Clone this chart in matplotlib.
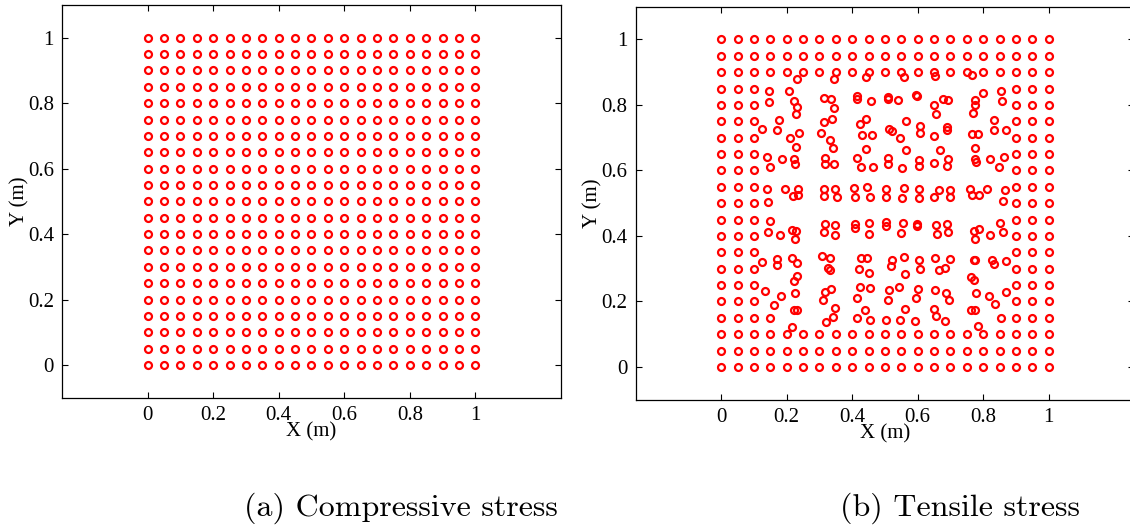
import matplotlib
matplotlib.use("Agg")
import matplotlib.pyplot as plt

# particle coordinates (m): regular 21 x 21 lattice
grid_vals = [0.0, 0.05, 0.1, 0.15, 0.2, 0.25, 0.3, 0.35, 0.4, 0.45, 0.5,
             0.55, 0.6, 0.65, 0.7, 0.75, 0.8, 0.85, 0.9, 0.95, 1.0]

# tensile case: outer three layers stay on the lattice
edge_rows = [0.0, 0.05, 0.1, 0.9, 0.95, 1.0]
edge_cols = [0.0, 0.05, 0.1, 0.9, 0.95, 1.0]
inner_rows = [0.15, 0.2, 0.25, 0.3, 0.35, 0.4, 0.45, 0.5,
              0.55, 0.6, 0.65, 0.7, 0.75, 0.8, 0.85]

# tensile case: displaced particles (x, y)
moved_upper = [
    (0.231, 0.878), (0.343, 0.878), (0.443, 0.885), (0.557, 0.885), (0.654, 0.888),
    (0.766, 0.890), (0.145, 0.842), (0.206, 0.841), (0.799, 0.837), (0.855, 0.844),
    (0.145, 0.808), (0.221, 0.811), (0.233, 0.794), (0.228, 0.771), (0.313, 0.821),
    (0.335, 0.817), (0.343, 0.791), (0.416, 0.827), (0.416, 0.819), (0.458, 0.812),
    (0.508, 0.824), (0.508, 0.817), (0.540, 0.814), (0.596, 0.831), (0.598, 0.826),
    (0.649, 0.801), (0.677, 0.819), (0.692, 0.814), (0.656, 0.773), (0.776, 0.814),
    (0.776, 0.799), (0.768, 0.776), (0.857, 0.812), (0.178, 0.753), (0.126, 0.725),
    (0.172, 0.722), (0.338, 0.758), (0.313, 0.748), (0.443, 0.757), (0.425, 0.743),
    (0.564, 0.751), (0.211, 0.699), (0.239, 0.714), (0.305, 0.714), (0.331, 0.694),
    (0.431, 0.707), (0.460, 0.707), (0.513, 0.728), (0.521, 0.720), (0.547, 0.699),
    (0.606, 0.736), (0.606, 0.714), (0.649, 0.705), (0.689, 0.734), (0.689, 0.724),
    (0.766, 0.712), (0.783, 0.712), (0.832, 0.753), (0.832, 0.722), (0.868, 0.724),
    (0.228, 0.671), (0.341, 0.668), (0.443, 0.666), (0.564, 0.663), (0.669, 0.661),
    (0.774, 0.669), (0.140, 0.641), (0.185, 0.636), (0.223, 0.635), (0.226, 0.621),
    (0.150, 0.610), (0.318, 0.638), (0.318, 0.619), (0.345, 0.621), (0.416, 0.638),
    (0.427, 0.612), (0.463, 0.612), (0.510, 0.638), (0.510, 0.620), (0.551, 0.608),
    (0.603, 0.633), (0.603, 0.613), (0.649, 0.624), (0.692, 0.634), (0.689, 0.615),
    (0.776, 0.636), (0.778, 0.626), (0.822, 0.636), (0.862, 0.641), (0.847, 0.610),
]

moved_mid = [
    (0.140, 0.542), (0.196, 0.542), (0.236, 0.544), (0.218, 0.523), (0.234, 0.526),
    (0.315, 0.542), (0.315, 0.521), (0.348, 0.544), (0.353, 0.519), (0.404, 0.546),
    (0.408, 0.519), (0.445, 0.549), (0.455, 0.519), (0.503, 0.542), (0.502, 0.519),
    (0.557, 0.547), (0.551, 0.517), (0.603, 0.542), (0.603, 0.517), (0.664, 0.541),
    (0.651, 0.519), (0.698, 0.539), (0.698, 0.519), (0.761, 0.542), (0.766, 0.526),
    (0.786, 0.524), (0.810, 0.542), (0.865, 0.541), (0.859, 0.507), (0.142, 0.504),
    (0.148, 0.445), (0.143, 0.412), (0.180, 0.404), (0.216, 0.419), (0.228, 0.414),
    (0.224, 0.390), (0.318, 0.435), (0.348, 0.432), (0.315, 0.412), (0.346, 0.402),
    (0.409, 0.437), (0.409, 0.425), (0.450, 0.439), (0.450, 0.407), (0.503, 0.443),
    (0.503, 0.431), (0.555, 0.439), (0.550, 0.409), (0.598, 0.435), (0.598, 0.429),
    (0.657, 0.432), (0.689, 0.435), (0.659, 0.405), (0.692, 0.412), (0.771, 0.415),
    (0.788, 0.420), (0.774, 0.392), (0.822, 0.404), (0.852, 0.440), (0.860, 0.412),
]

moved_lower = [
    (0.124, 0.320), (0.172, 0.331), (0.172, 0.312), (0.216, 0.333), (0.233, 0.318),
    (0.308, 0.338), (0.331, 0.334), (0.325, 0.302), (0.333, 0.297), (0.427, 0.334),
    (0.445, 0.334), (0.422, 0.300), (0.450, 0.288), (0.521, 0.328), (0.519, 0.309),
    (0.558, 0.335), (0.560, 0.284), (0.603, 0.328), (0.606, 0.298), (0.654, 0.334),
    (0.698, 0.331), (0.684, 0.302), (0.664, 0.295), (0.771, 0.326), (0.776, 0.326),
    (0.827, 0.328), (0.834, 0.315), (0.870, 0.322), (0.231, 0.277), (0.221, 0.262),
    (0.763, 0.275), (0.771, 0.265), (0.134, 0.232), (0.182, 0.216), (0.162, 0.188),
    (0.226, 0.226), (0.335, 0.239), (0.316, 0.228), (0.310, 0.205), (0.423, 0.244),
    (0.455, 0.242), (0.416, 0.212), (0.511, 0.234), (0.509, 0.205), (0.544, 0.244),
    (0.601, 0.239), (0.596, 0.212), (0.654, 0.234), (0.686, 0.226), (0.694, 0.203),
    (0.779, 0.226), (0.819, 0.218), (0.868, 0.229), (0.835, 0.191), (0.560, 0.178),
    (0.438, 0.175), (0.348, 0.181), (0.221, 0.175), (0.233, 0.175), (0.341, 0.153),
    (0.321, 0.137), (0.414, 0.148), (0.455, 0.144), (0.503, 0.144), (0.547, 0.142),
    (0.593, 0.139), (0.649, 0.178), (0.657, 0.155), (0.684, 0.140), (0.763, 0.175),
    (0.776, 0.175), (0.148, 0.150), (0.855, 0.150), (0.216, 0.122), (0.784, 0.124),
]

tick_vals = [0, 0.2, 0.4, 0.6, 0.8, 1]
tick_text = ["0", "0.2", "0.4", "0.6", "0.8", "1"]
captions = ["(a) Compressive stress", "(b) Tensile stress"]

# compressive: untouched lattice
comp_x = [gx for gy in grid_vals for gx in grid_vals]
comp_y = [gy for gy in grid_vals for gx in grid_vals]

# tensile: lattice frame + displaced interior
tens_x = [gx for gy in edge_rows for gx in grid_vals]
tens_y = [gy for gy in edge_rows for gx in grid_vals]
tens_x += [gx for gy in inner_rows for gx in edge_cols]
tens_y += [gy for gy in inner_rows for gx in edge_cols]
for px, py in moved_upper + moved_mid + moved_lower:
    tens_x.append(px)
    tens_y.append(py)

plt.rcParams['font.family'] = ['Liberation Serif', 'DejaVu Serif']

fig = plt.figure(figsize=(11.3, 5.29), dpi=100)
ax1 = fig.add_axes([0.0551, 0.2482, 0.4411, 0.7423])
ax2 = fig.add_axes([0.5628, 0.2444, 0.4407, 0.7430])

for ax, xs, ys in [(ax1, comp_x, comp_y), (ax2, tens_x, tens_y)]:
    ax.plot(xs, ys, 'o', color='red', markerfacecolor='none',
            markersize=5.0, markeredgewidth=1.6, linestyle='none')
    ax.set_xlim(-0.26, 1.26)
    ax.set_ylim(-0.1, 1.1)
    ax.set_xticks(tick_vals)
    ax.set_xticklabels(tick_text)
    ax.set_yticks(tick_vals)
    ax.set_yticklabels(tick_text)
    ax.tick_params(direction='in', length=4, width=0.8, labelsize=15,
                   top=True, right=True, pad=6)
    for sp in ax.spines.values():
        sp.set_linewidth(0.9)
    ax.set_xlabel('X (m)', fontsize=15, labelpad=-2)
    ax.set_ylabel('Y (m)', fontsize=15, labelpad=-1)

fig.text(401 / 1130, 1 - 508 / 529, captions[0], family='cmr10',
         fontsize=23, ha='center', va='center')
fig.text(960 / 1130, 1 - 508 / 529, captions[1], family='cmr10',
         fontsize=23, ha='center', va='center')

fig.savefig('out.png', dpi=100)
